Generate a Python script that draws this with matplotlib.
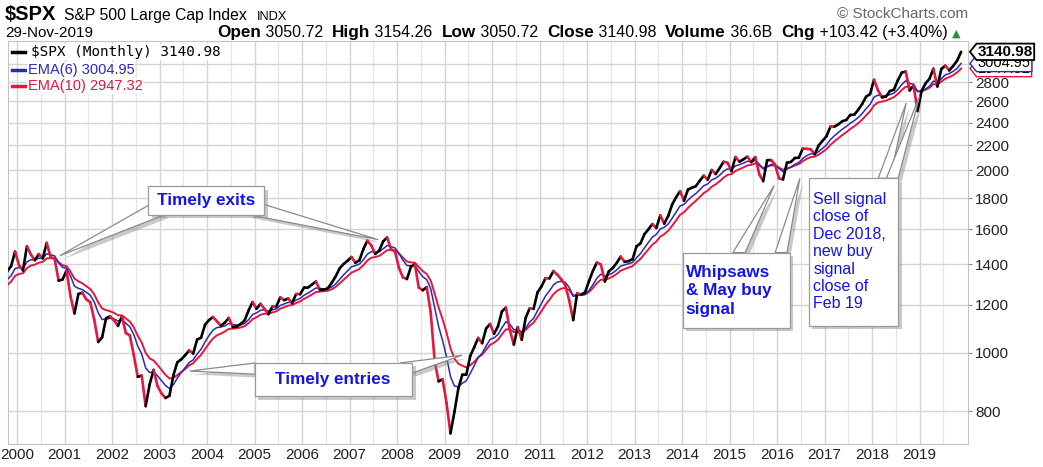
import numpy as np
import pandas as pd
import matplotlib
matplotlib.use('Agg')
import matplotlib.pyplot as plt
from matplotlib.collections import LineCollection
from matplotlib.patches import Rectangle, Polygon
from matplotlib.lines import Line2D
from matplotlib.path import Path
import matplotlib.patheffects as pe

plt.rcParams['font.family'] = ['Liberation Sans', 'DejaVu Sans']

# $SPX monthly closes (1998-99 only feed the EMAs)
spx_1998 = [980.28, 1049.34, 1101.75, 1111.75, 1090.82, 1133.84, 1120.67, 957.28, 1017.01, 1098.67, 1163.63, 1229.23]
spx_1999 = [1279.64, 1238.33, 1286.37, 1335.18, 1301.84, 1372.71, 1328.72, 1320.41, 1282.71, 1362.93, 1388.91, 1469.25]
spx_2000 = [1394.46, 1366.42, 1498.58, 1452.43, 1420.60, 1454.60, 1430.83, 1517.68, 1436.51, 1429.40, 1314.95, 1320.28]
spx_2001 = [1366.01, 1239.94, 1160.33, 1249.46, 1255.82, 1224.38, 1211.23, 1133.58, 1040.94, 1059.78, 1139.45, 1148.08]
spx_2002 = [1130.20, 1106.73, 1147.39, 1076.92, 1067.14, 989.82, 911.62, 916.07, 815.28, 885.76, 936.31, 879.82]
spx_2003 = [855.70, 841.15, 848.18, 916.92, 963.59, 974.50, 990.31, 1008.01, 995.97, 1050.71, 1058.20, 1111.92]
spx_2004 = [1131.13, 1144.94, 1126.21, 1107.30, 1120.68, 1140.84, 1101.72, 1104.24, 1114.58, 1130.20, 1173.82, 1211.92]
spx_2005 = [1181.27, 1203.60, 1180.59, 1156.85, 1191.50, 1191.33, 1234.18, 1220.33, 1228.81, 1207.01, 1249.48, 1248.29]
spx_2006 = [1280.08, 1280.66, 1294.83, 1310.61, 1270.09, 1270.20, 1276.66, 1303.82, 1335.85, 1377.94, 1400.63, 1418.30]
spx_2007 = [1438.24, 1406.82, 1420.86, 1482.37, 1530.62, 1503.35, 1455.27, 1473.99, 1526.75, 1549.38, 1481.14, 1468.36]
spx_2008 = [1378.55, 1330.63, 1322.70, 1385.59, 1400.38, 1280.00, 1267.38, 1282.83, 1166.36, 968.75, 896.24, 903.25]
spx_2009 = [825.88, 735.09, 797.87, 872.81, 919.14, 919.32, 987.48, 1020.62, 1057.08, 1036.19, 1095.63, 1115.10]
spx_2010 = [1073.87, 1104.49, 1169.43, 1186.69, 1089.41, 1030.71, 1101.60, 1049.33, 1141.20, 1183.26, 1180.55, 1257.64]
spx_2011 = [1286.12, 1327.22, 1325.83, 1363.61, 1345.20, 1320.64, 1292.28, 1218.89, 1131.42, 1253.30, 1246.96, 1257.60]
spx_2012 = [1312.41, 1365.68, 1408.47, 1397.91, 1310.33, 1362.16, 1379.32, 1406.58, 1440.67, 1412.16, 1416.18, 1426.19]
spx_2013 = [1498.11, 1514.68, 1569.19, 1597.57, 1630.74, 1606.28, 1685.73, 1632.97, 1681.55, 1756.54, 1805.81, 1848.36]
spx_2014 = [1782.59, 1859.45, 1872.34, 1883.95, 1923.57, 1960.23, 1930.67, 2003.37, 1972.29, 2018.05, 2067.56, 2058.90]
spx_2015 = [1994.99, 2104.50, 2067.89, 2085.51, 2107.39, 2063.11, 2103.84, 1972.18, 1920.03, 2079.36, 2080.41, 2043.94]
spx_2016 = [1940.24, 1932.23, 2059.74, 2065.30, 2096.95, 2098.86, 2173.60, 2170.95, 2168.27, 2126.15, 2198.81, 2238.83]
spx_2017 = [2278.87, 2363.64, 2362.72, 2384.20, 2411.80, 2423.41, 2470.30, 2471.65, 2519.36, 2575.26, 2647.58, 2673.61]
spx_2018 = [2823.81, 2713.83, 2640.87, 2648.05, 2705.27, 2718.37, 2816.29, 2901.52, 2913.98, 2711.74, 2760.17, 2506.85]
spx_2019 = [2704.10, 2784.49, 2834.40, 2945.83, 2752.06, 2941.76, 2980.38, 2926.46, 2976.74, 3037.56, 3140.98]

closes = (spx_1998 + spx_1999 + spx_2000 + spx_2001 + spx_2002 + spx_2003 + spx_2004
          + spx_2005 + spx_2006 + spx_2007 + spx_2008 + spx_2009 + spx_2010 + spx_2011
          + spx_2012 + spx_2013 + spx_2014 + spx_2015 + spx_2016 + spx_2017 + spx_2018 + spx_2019)

year_ticks = list(range(2000, 2020))
price_ticks = [800, 1000, 1200, 1400, 1600, 1800, 2000, 2200, 2400, 2600, 2800, 3000]
price_labels = ['800', '1000', '1200', '1400', '1600', '1800', '2000', '2200', '2400', '2600', '2800', '']

last_close = 3140.98
last_ema6 = 3004.95
last_ema10 = 2947.32

# month midpoints as fractional years
dates = pd.date_range('1998-01-01', periods=len(closes), freq='MS')
xpos = dates.year + (dates.month - 0.5) / 12.0
s = pd.Series(closes, index=xpos)
ema6 = s.ewm(span=6, adjust=False).mean()
ema10 = s.ewm(span=10, adjust=False).mean()

show = s.index >= 1999.7
xs = s.index[show].values
ys = s.values[show]

W, H = 1043, 467
fig = plt.figure(figsize=(W / 100, H / 100), dpi=100)
ax = fig.add_axes([8 / W, 1 - 444 / H, 960 / W, 403 / H])

BLUE = '#2a2ab8'
RED = '#e3173f'

ax.plot(xs, ema10.values[show], color=RED, lw=1.4, zorder=3)
ax.plot(xs, ema6.values[show], color=BLUE, lw=1.1, zorder=3)

pts = np.column_stack([xs, ys])
segs = np.stack([pts[:-1], pts[1:]], axis=1)
seg_colors = [RED if b < a else 'black' for a, b in zip(ys[:-1], ys[1:])]
lc = LineCollection(segs, colors=seg_colors, linewidths=1.9, zorder=4, capstyle='round', joinstyle='round')
ax.add_collection(lc)

ax.set_yscale('log')
ax.set_xlim(1999.81, 2020.02)
ax.set_ylim(706, 3273)
ax.set_yticks(price_ticks)
ax.set_yticklabels(price_labels)
ax.yaxis.set_minor_locator(matplotlib.ticker.NullLocator())
ax.yaxis.tick_right()
ax.tick_params(axis='y', length=3, width=0.8, color='#888888', pad=2, labelsize=11, labelcolor='#222222')
ax.set_xticks(year_ticks)
ax.set_xticklabels([str(y) for y in year_ticks])
ax.set_xticks([y + 0.5 for y in year_ticks], minor=True)
ax.tick_params(axis='x', which='both', length=0, pad=3, labelsize=11, labelcolor='#222222')
ax.grid(True, which='major', color='#d4d4d4', lw=1)
ax.grid(True, which='minor', axis='x', color='#e6e6e6', lw=1)
ax.set_axisbelow(True)
for sp in ax.spines.values():
    sp.set_color('#c4c4c4')

# callouts
shadow = [pe.SimplePatchShadow(offset=(2.5, -2.5), shadow_rgbFace='#888888', alpha=0.45), pe.Normal()]


def callout(box, wedges):
    x0, x1, y0, y1 = box
    for a, b, tip in wedges:
        ax.add_patch(Polygon([a, tip, b], closed=True, fc='white', ec='#8a8a8a', lw=0.9,
                             zorder=6, path_effects=shadow))
    ax.add_patch(Rectangle((x0, y0), x1 - x0, y1 - y0, fc='white', ec='#9a9a9a', lw=0.9,
                           zorder=7, path_effects=shadow))


TXT = '#1414e8'
callout((2002.76, 2005.20, 1691, 1882),
        [((2002.76, 1750), (2003.12, 1691), (2000.905, 1446)),
         ((2004.86, 1691), (2005.20, 1757), (2007.60, 1537))])
ax.text(2003.98, 1785, 'Timely exits', color=TXT, fontsize=12.3, fontweight='bold',
        ha='center', va='center', zorder=8)

callout((2005.01, 2008.32, 847, 961),
        [((2005.01, 961), (2005.01, 921), (2003.64, 932)),
         ((2008.06, 961), (2008.32, 925), (2009.37, 990))])
ax.text(2006.65, 901, 'Timely entries', color=TXT, fontsize=12.3, fontweight='bold',
        ha='center', va='center', zorder=8)

callout((2014.02, 2016.27, 1098, 1463),
        [((2015.07, 1463), (2015.33, 1463), (2015.94, 1889)),
         ((2015.96, 1463), (2016.21, 1463), (2016.48, 1940))])
ax.text(2014.08, 1265, 'Whipsaws\n& May buy\nsignal', color=TXT, fontsize=12.3,
        fontweight='bold', ha='left', va='center', linespacing=1.3, zorder=8)

callout((2016.67, 2018.55, 1107, 1941),
        [((2018.13, 1941), (2018.38, 1941), (2018.72, 2584)),
         ((2018.30, 1941), (2018.55, 1941), (2019.0, 2650))])
ax.text(2016.76, 1468, 'Sell signal\nclose of\nDec 2018,\nnew buy\nsignal\nclose of\nFeb 19',
        color=TXT, fontsize=11.5, ha='left', va='center', linespacing=1.2, zorder=8)


# last-value tags on the right
def tag_box(x0, y0, width, height, mutation_size):
    pad = 0.08 * mutation_size
    x0, y0 = x0 - pad, y0 - pad
    x1, y1 = x0 + width + 2 * pad, y0 + height + 2 * pad
    h = (y1 - y0) / 2
    return Path([(x0, y0), (x1, y0), (x1, y1), (x0, y1), (x0 - h * 0.8, y0 + h), (x0, y0)], closed=True)


for val, ec, bold, z in [(last_ema10, RED, False, 9), (last_ema6, BLUE, False, 10), (last_close, 'black', True, 11)]:
    ax.annotate(f'{val:.2f}', xy=(1, val), xycoords=('axes fraction', 'data'),
                xytext=(7, 0), textcoords='offset points', ha='left', va='center',
                fontsize=11 if bold else 10.5, fontweight='bold' if bold else 'normal',
                color='black', annotation_clip=False, zorder=z,
                bbox=dict(boxstyle=tag_box, fc='white', ec=ec, lw=1.3 if bold else 1.0))

# legend
leg = [('$SPX (Monthly) 3140.98', 'black', 52, 'DejaVu Sans Mono', 10.4, 31),
       ('EMA(6) 3004.95', BLUE, 70, 'Liberation Sans', 10.5, 28),
       ('EMA(10) 2947.32', RED, 86, 'Liberation Sans', 10.5, 28)]
for label, col, py, fam, fs, tx in leg:
    fig.add_artist(Line2D([12 / W, 25 / W], [1 - py / H, 1 - py / H], color=col, lw=2.5))
    fig.text(tx / W, 1 - py / H, label, color=col, family=fam, fontsize=fs, va='center',
             ha='left', bbox=dict(fc='white', ec='none', pad=0.5))

# header
fig.text(5 / W, 1 - 20 / H, '$SPX', fontsize=14.5, fontweight='bold', va='baseline')
fig.text(64 / W, 1 - 20 / H, 'S&P 500 Large Cap Index', fontsize=11.3, va='baseline')
fig.text(257 / W, 1 - 20 / H, 'INDX', fontsize=9.3, va='baseline')
fig.text(968 / W, 1 - 18 / H, '\u00a9 StockCharts.com', fontsize=11, color='#666666',
         va='baseline', ha='right')
fig.text(5 / W, 1 - 37 / H, '29-Nov-2019', fontsize=11, va='baseline')

parts = [('Open', True), (' 3050.72  ', False), ('High', True), (' 3154.26  ', False),
         ('Low', True), (' 3050.72  ', False), ('Close', True), (' 3140.98  ', False),
         ('Volume', True), (' 36.6B  ', False), ('Chg', True), (' +103.42 (+3.40%) ', False)]
prev = None
for txt, b in parts:
    if prev is None:
        prev = fig.text(217 / W, 1 - 40 / H, txt, fontsize=12.3, fontweight='bold', va='bottom')
    else:
        prev = ax.annotate(txt, xy=(1, 0), xycoords=prev, va='bottom', ha='left',
                           fontsize=12.3 if b else 11.5, fontweight='bold' if b else 'normal',
                           annotation_clip=False)
ax.annotate('\u25b2', xy=(1, 0.12), xycoords=prev, va='bottom', ha='left', fontsize=8,
            color='#2e8b3a', family='DejaVu Sans', annotation_clip=False)

fig.savefig('out.png', dpi=100)
